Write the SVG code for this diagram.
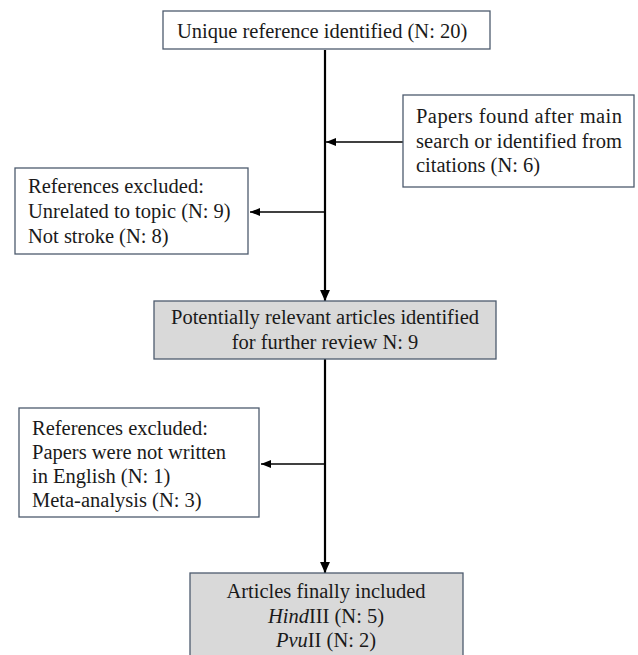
<svg xmlns="http://www.w3.org/2000/svg" width="638" height="655" viewBox="0 0 638 655">
<style>
.box{fill:#ffffff;stroke:#4d5b6e;stroke-width:1.3}
.gbox{fill:#d9d9d9;stroke:#4d5b6e;stroke-width:1.3}
.t{font-size:20.5px;fill:#1a1a1a}
.c{text-anchor:middle}
.main{stroke:#000;stroke-width:2.2;fill:none}
.side{stroke:#000;stroke-width:1.3;fill:none}
</style>
<defs>
<marker id="ah" viewBox="0 0 10 10" refX="10" refY="5" markerWidth="10" markerHeight="10" markerUnits="userSpaceOnUse" orient="auto">
<path d="M0,1 L10,5 L0,9 Z" fill="#000"/>
</marker>
<marker id="ahm" viewBox="0 0 10 10" refX="10" refY="5" markerWidth="5" markerHeight="5" orient="auto">
<path d="M0,0.5 L10,5 L0,9.5 Z" fill="#000"/>
</marker>
</defs>
<g id="connectors">
<line class="main" x1="325" y1="50" x2="325" y2="301" marker-end="url(#ahm)"/>
<line class="main" x1="325" y1="359" x2="325" y2="573" marker-end="url(#ahm)"/>
<line class="side" x1="403" y1="142" x2="326" y2="142" marker-end="url(#ah)"/>
<line class="side" x1="324" y1="212" x2="250" y2="212" marker-end="url(#ah)"/>
<line class="side" x1="324" y1="464" x2="261" y2="464" marker-end="url(#ah)"/>
</g>
<g font-family="Liberation Serif, serif">
<g id="n1">
<rect class="box" x="163" y="11" width="327" height="38"/>
<text class="t" x="177" y="38">Unique reference identified (N: 20)</text>
</g>
<g id="n2">
<rect class="box" x="403" y="95" width="231" height="92"/>
<text class="t" x="416" y="123" textLength="206" lengthAdjust="spacing">Papers found after main</text>
<text class="t" x="416" y="148" textLength="206" lengthAdjust="spacing">search or identified from</text>
<text class="t" x="416" y="172">citations (N: 6)</text>
</g>
<g id="n3">
<rect class="box" x="15" y="168" width="233" height="86"/>
<text class="t" x="28" y="193">References excluded:</text>
<text class="t" x="28" y="218">Unrelated to topic (N: 9)</text>
<text class="t" x="28" y="243">Not stroke (N: 8)</text>
</g>
<g id="n4">
<rect class="gbox" x="154" y="301" width="342" height="58"/>
<text class="t c" x="325" y="324">Potentially relevant articles identified</text>
<text class="t c" x="325" y="349">for further review N: 9</text>
</g>
<g id="n5">
<rect class="box" x="19" y="408" width="240" height="109"/>
<text class="t" x="32" y="435">References excluded:</text>
<text class="t" x="32" y="459">Papers were not written</text>
<text class="t" x="32" y="483">in English (N: 1)</text>
<text class="t" x="32" y="507">Meta-analysis (N: 3)</text>
</g>
<g id="n6">
<rect class="gbox" x="190" y="573" width="273" height="90"/>
<text class="t c" x="326" y="598">Articles finally included</text>
<text class="t c" x="326" y="623"><tspan font-style="italic">Hind</tspan>III (N: 5)</text>
<text class="t c" x="326" y="647"><tspan font-style="italic">Pvu</tspan>II (N: 2)</text>
</g>
</g>
</svg>
